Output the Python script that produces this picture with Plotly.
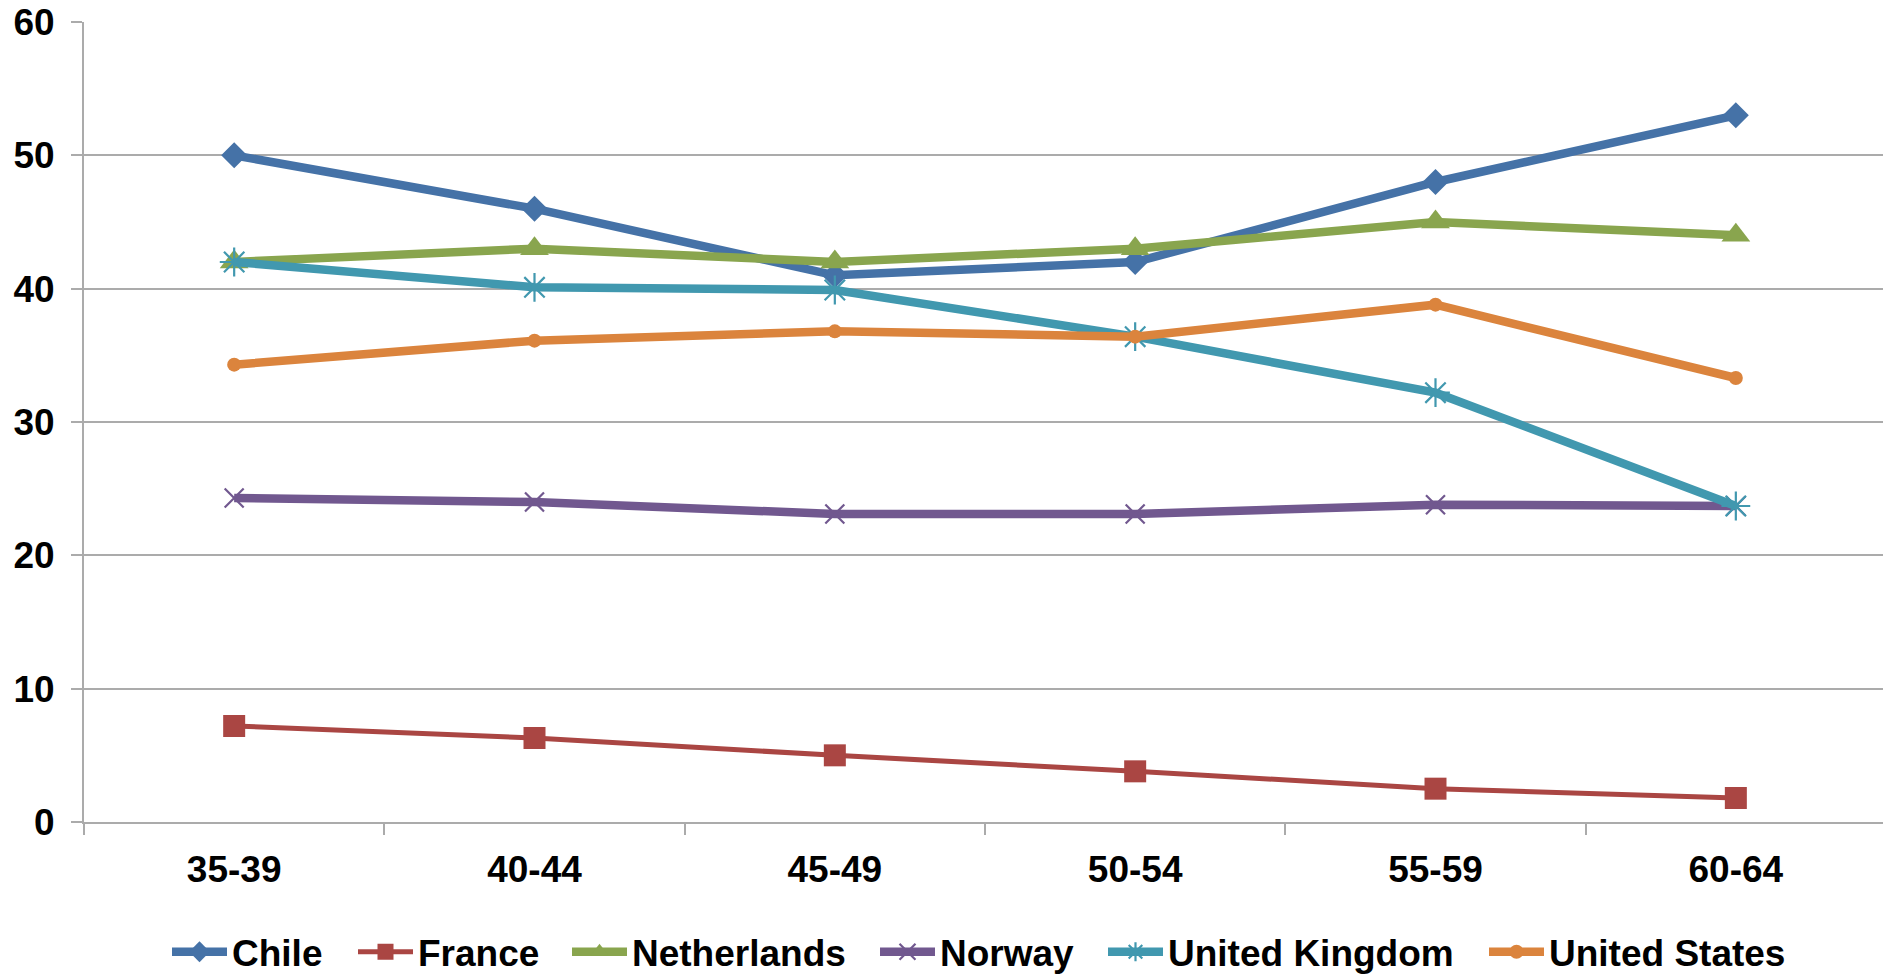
import plotly.graph_objects as go

# Age groups on the category axis
age_groups = ["35-39", "40-44", "45-49", "50-54", "55-59", "60-64"]

# Values per country
chile = [50, 46, 41, 42, 48, 53]
france = [7.2, 6.3, 5.0, 3.8, 2.5, 1.8]
netherlands = [42, 43, 42, 43, 45, 44]
norway = [24.3, 24.0, 23.1, 23.1, 23.8, 23.7]
united_kingdom = [42, 40.1, 39.9, 36.4, 32.2, 23.7]
united_states = [34.3, 36.1, 36.8, 36.4, 38.8, 33.3]

y_ticks = [0, 10, 20, 30, 40, 50, 60]

FONT = dict(family="Arial, Liberation Sans, sans-serif", size=37, color="#000000", weight="bold")
GRID = "#ABABAB"

# name, values, colour, line width, marker style, left edge of its legend entry (px)
series = [
    ("Chile", chile, "#4572A7", 8.5, dict(symbol="diamond", size=20), 167),
    ("France", france, "#AA4643", 5, dict(symbol="square", size=22), 353),
    ("Netherlands", netherlands, "#89A54E", 8.5, dict(symbol="triangle-up", size=25), 567),
    ("Norway", norway, "#71588F", 8.5,
     dict(symbol="x-thin-open", size=19, line=dict(width=2.2, color="#71588F")), 875),
    ("United Kingdom", united_kingdom, "#4198AF", 8.5,
     dict(symbol="asterisk-open", size=24, line=dict(width=2.2, color="#4198AF")), 1103),
    ("United States", united_states, "#DB843D", 8.5, dict(symbol="circle", size=14), 1484),
]

fig = go.Figure()
legend_layouts = {}
for i, (name, values, color, width, marker, legend_x) in enumerate(series):
    legend_id = "legend" if i == 0 else f"legend{i + 1}"
    marker = dict(marker)
    marker.setdefault("color", color)
    fig.add_trace(go.Scatter(
        x=age_groups, y=values, name=name, mode="lines+markers",
        line=dict(color=color, width=width),
        marker=marker,
        cliponaxis=False,
        legend=legend_id,
    ))
    legend_layouts[legend_id] = dict(
        orientation="h",
        xref="container", yref="paper",
        x=legend_x / 1883, xanchor="left",
        y=-0.2015, yanchor="bottom",
        font=FONT,
        itemwidth=55,
        bgcolor="rgba(0,0,0,0)",
    )

fig.update_layout(
    width=1883, height=976,
    margin=dict(l=84, r=0, t=22, b=154, autoexpand=False),
    plot_bgcolor="#FFFFFF", paper_bgcolor="#FFFFFF",
    font=FONT,
    showlegend=True,
    xaxis=dict(
        type="category",
        range=[-0.5, 5.49],
        tickson="boundaries",
        ticks="outside", ticklen=11, tickwidth=2, tickcolor=GRID,
        showline=True, linecolor=GRID, linewidth=2,
        showgrid=False, zeroline=False,
        tickfont=FONT,
        ticklabelstandoff=14,
    ),
    yaxis=dict(
        range=[0, 60],
        tickvals=y_ticks,
        ticks="outside", ticklen=11, tickwidth=2, tickcolor=GRID,
        showline=True, linecolor=GRID, linewidth=2,
        showgrid=True, gridcolor=GRID, gridwidth=2,
        zeroline=False,
        tickfont=FONT,
        ticklabelstandoff=9,
    ),
    **legend_layouts,
)

fig.write_html("out.html")
